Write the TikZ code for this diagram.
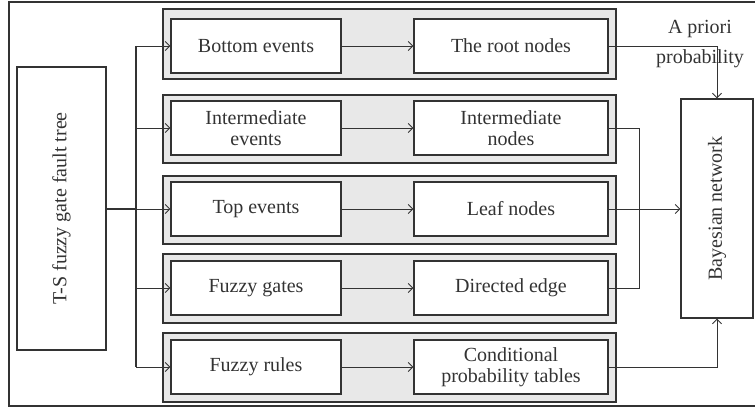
\documentclass[tikz,border=0pt]{standalone}
\usepackage{fontspec}
\setmainfont{Liberation Serif}
\usetikzlibrary{arrows.meta,calc}
\definecolor{ink}{HTML}{333333}
\definecolor{band}{HTML}{E8E8E8}
\begin{document}
\begin{tikzpicture}[x=1pt,y=-1pt,
  lbl/.style={font=\fontsize{20}{20.5}\selectfont, text=ink, align=center},
  box/.style={draw=ink, line width=1.4pt, fill=white, lbl, inner sep=0pt},
  bandbox/.style={draw=ink, line width=1.2pt, fill=band, minimum width=453, inner sep=0pt},
  leftbox/.style={box, minimum width=170, minimum height=54},
  rightbox/.style={box, minimum width=194, minimum height=54},
  conn/.style={draw=ink, line width=0.9pt},
  tip/.style={-{Straight Barb[length=4.5pt,width=9pt,line width=0.9pt]}},
  trunk/.style={draw=ink, line width=1.5pt}]
\useasboundingbox (0,0) rectangle (755,409);

% outer frame (its right side lies beyond the page edge)
\draw[ink, line width=1.2pt] (758,2) -- (9,2) -- (9,406) -- (758,406);

% shaded bands behind each mapping row
\node[bandbox, minimum height=70] (b1) at (389.5,44) {};
\node[bandbox, minimum height=68] (b2) at (389.5,129) {};
\node[bandbox, minimum height=68] (b3) at (389.5,210) {};
\node[bandbox, minimum height=69] (b4) at (389.5,288.5) {};
\node[bandbox, minimum height=69] (b5) at (389.5,367.5) {};

% fault tree side
\node[box, minimum width=89, minimum height=283] (ft) at (61.5,208.5)
  {\rotatebox{90}{T-S fuzzy gate fault tree}};
\node[leftbox] (l1) at (256,46) {Bottom events};
\node[leftbox] (l2) at (256,128) {Intermediate\\events};
\node[leftbox] (l3) at (256,209) {Top events};
\node[leftbox] (l4) at (256,288) {Fuzzy gates};
\node[leftbox] (l5) at (256,367) {Fuzzy rules};

% Bayesian network side
\node[rightbox] (r1) at (511,46) {The root nodes};
\node[rightbox] (r2) at (511,128) {Intermediate\\nodes};
\node[rightbox] (r3) at (511,209) {Leaf nodes};
\node[rightbox] (r4) at (511,288) {Directed edge};
\node[rightbox] (r5) at (511,367) {Conditional\\probability tables};
\node[box, minimum width=72, minimum height=219] (bn) at (717,208.5)
  {\rotatebox{90}{Bayesian network}};

\node[lbl] (ap) at (700,44) {A priori\\[9pt]probability};

% distribution trunk
\coordinate (tx) at (136,0);
\draw[trunk] (ft.east |- l3.west) -- (tx |- l3.west);
\draw[trunk] (tx |- l1.west) -- (tx |- l5.west);
\foreach \i in {1,...,5}{
  \draw[conn, tip] (tx |- l\i.west) -- (l\i.west);
  \draw[conn, tip] (l\i.east) -- (r\i.west);
}

% into the Bayesian network
\draw[conn, tip] (r1.east) -| (bn.north);
\coordinate (mx) at (639,0);
\draw[conn] (r2.east) -- (mx |- r2.east) -- (mx |- r4.east) -- (r4.east);
\draw[conn, tip] (r3.east) -- (bn.west |- r3.east);
\draw[conn, tip] (r5.east) -| (bn.south);
\end{tikzpicture}
\end{document}
